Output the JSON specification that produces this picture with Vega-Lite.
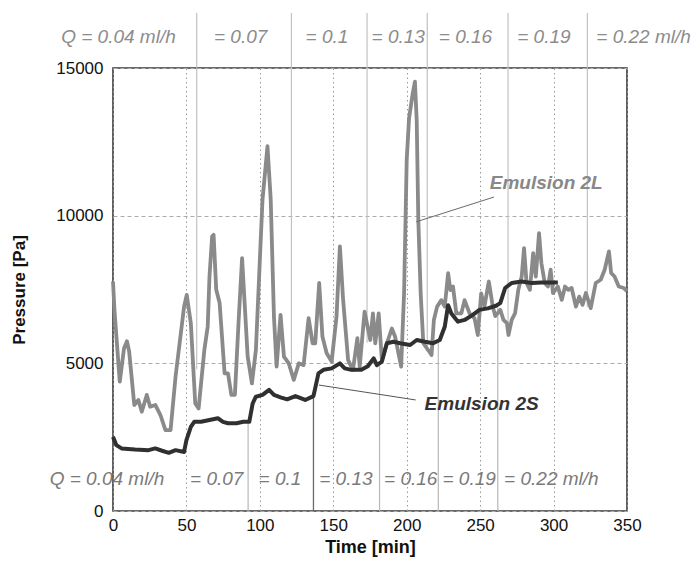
{
  "$schema": "https://vega.github.io/schema/vega-lite/v6.json",
  "width": 514,
  "height": 443,
  "padding": {"left": 113, "top": 68, "right": 65, "bottom": 53},
  "autosize": {"type": "none"},
  "background": "white",
  "config": {
    "font": "Liberation Sans",
    "view": {"stroke": "#3a3a3a", "strokeWidth": 1.6}
  },
  "datasets": {
    "l2": [
      {"t":0,"p":7770},{"t":1,"p":6800},{"t":4.6,"p":4380},{"t":7.5,"p":5500},{"t":9.5,"p":5750},{"t":11,"p":5400},
      {"t":14.5,"p":3590},{"t":17.3,"p":3760},{"t":19.6,"p":3360},{"t":23,"p":3930},{"t":25.3,"p":3530},{"t":28.8,"p":3590},
      {"t":32.3,"p":3250},{"t":35.7,"p":2740},{"t":39.2,"p":2740},{"t":42.6,"p":4550},{"t":48.4,"p":6920},{"t":50.2,"p":7320},
      {"t":53,"p":6360},{"t":56,"p":3640},{"t":58.3,"p":3470},{"t":62.2,"p":5450},{"t":64.5,"p":6250},{"t":65.7,"p":7940},
      {"t":67.5,"p":9300},{"t":68.5,"p":9350},{"t":70.3,"p":7490},{"t":72.6,"p":7040},{"t":76,"p":4660},{"t":78.3,"p":4660},
      {"t":80.6,"p":3930},{"t":83,"p":3930},{"t":85.5,"p":6400},{"t":87.9,"p":8560},{"t":91.7,"p":5230},{"t":94.6,"p":4320},
      {"t":97.3,"p":5450},{"t":101.8,"p":10540},{"t":105.2,"p":12350},{"t":107.4,"p":10540},{"t":109.6,"p":6580},{"t":111.4,"p":4890},
      {"t":114.1,"p":6640},{"t":116.4,"p":5230},{"t":119.7,"p":5000},{"t":123.1,"p":4440},{"t":126.5,"p":5000},{"t":129.8,"p":4940},
      {"t":133.2,"p":6530},{"t":135.9,"p":5680},{"t":137.7,"p":5680},{"t":140.4,"p":7720},{"t":142.6,"p":5910},{"t":145.5,"p":5340},
      {"t":148.9,"p":5060},{"t":152.2,"p":6580},{"t":154.5,"p":8960},{"t":156.7,"p":7150},{"t":160.1,"p":5110},{"t":163.4,"p":4780},
      {"t":166.4,"p":5850},{"t":168,"p":4890},{"t":171.3,"p":6750},{"t":175.2,"p":5790},{"t":177,"p":6690},{"t":178.6,"p":5680},
      {"t":180.9,"p":6690},{"t":183.1,"p":5110},{"t":186.5,"p":5680},{"t":189.9,"p":6180},{"t":192.1,"p":5900},{"t":194.4,"p":5340},
      {"t":196.2,"p":4890},{"t":198.2,"p":7370},{"t":200,"p":11890},{"t":201.6,"p":13300},{"t":204.1,"p":14140},{"t":205.6,"p":14540},
      {"t":206.8,"p":13240},{"t":207.9,"p":9850},{"t":209.5,"p":7370},{"t":211.3,"p":5680},{"t":214.6,"p":5450},{"t":216.9,"p":5280},
      {"t":218.5,"p":6470},{"t":220.7,"p":6920},{"t":223.6,"p":7140},{"t":225.9,"p":6920},{"t":228.2,"p":8050},{"t":229.7,"p":7480},
      {"t":231.5,"p":7600},{"t":233.8,"p":6690},{"t":237.2,"p":6690},{"t":239.4,"p":7140},{"t":242.8,"p":6690},{"t":246.2,"p":6520},
      {"t":248.4,"p":5960},{"t":250.7,"p":7370},{"t":252.9,"p":6920},{"t":255.9,"p":7770},{"t":258.6,"p":6920},{"t":260.3,"p":6600},
      {"t":263.7,"p":6810},{"t":265.9,"p":6470},{"t":268.2,"p":6360},{"t":269.3,"p":5960},{"t":271.5,"p":6470},{"t":273.8,"p":6700},
      {"t":276,"p":7490},{"t":278.3,"p":7940},{"t":279.9,"p":8900},{"t":281.6,"p":7720},{"t":283.9,"p":7490},{"t":286.1,"p":8730},
      {"t":287.9,"p":7940},{"t":290.1,"p":9410},{"t":291.7,"p":8390},{"t":294,"p":7720},{"t":296.2,"p":7600},{"t":298,"p":8170},
      {"t":299.6,"p":7380},{"t":302.9,"p":7600},{"t":305.6,"p":7150},{"t":307.8,"p":7600},{"t":310.1,"p":7490},{"t":312.3,"p":7550},
      {"t":315.2,"p":6920},{"t":317.5,"p":7260},{"t":319.7,"p":6980},{"t":322,"p":7380},{"t":325.3,"p":6870},{"t":328.7,"p":7720},
      {"t":332.1,"p":7830},{"t":334.8,"p":8170},{"t":337.7,"p":8790},{"t":339.2,"p":8060},{"t":341.5,"p":7940},{"t":344.4,"p":7600},
      {"t":347.8,"p":7550},{"t":350,"p":7450}
    ],
    "s2": [
      {"t":0,"p":2510},{"t":2.3,"p":2230},{"t":5.8,"p":2120},{"t":15,"p":2080},{"t":24.2,"p":2060},{"t":28.8,"p":2120},
      {"t":33.4,"p":2040},{"t":38,"p":1970},{"t":42.6,"p":2060},{"t":48.4,"p":2000},{"t":50,"p":2400},{"t":53,"p":2850},
      {"t":55.3,"p":3020},{"t":59.9,"p":3020},{"t":65.7,"p":3080},{"t":71.4,"p":3140},{"t":74.9,"p":3020},{"t":78.3,"p":2970},
      {"t":84.1,"p":2970},{"t":88.7,"p":3020},{"t":92.8,"p":3020},{"t":95.1,"p":3640},{"t":97.3,"p":3870},{"t":101.8,"p":3930},
      {"t":106.3,"p":4100},{"t":109.6,"p":3930},{"t":114.1,"p":3850},{"t":118.6,"p":3780},{"t":124.2,"p":3890},{"t":130.9,"p":3760},
      {"t":136.5,"p":3890},{"t":139.9,"p":4660},{"t":143.3,"p":4780},{"t":148.9,"p":4830},{"t":154.5,"p":5000},{"t":157.8,"p":4830},
      {"t":162.3,"p":4780},{"t":169.1,"p":4780},{"t":173.5,"p":4900},{"t":177.5,"p":5170},{"t":179.7,"p":4940},{"t":183.1,"p":5060},
      {"t":186.5,"p":5680},{"t":191,"p":5730},{"t":195.5,"p":5680},{"t":202.3,"p":5620},{"t":206.8,"p":5790},{"t":212.4,"p":5730},
      {"t":218,"p":5680},{"t":222.5,"p":5790},{"t":225.9,"p":6240},{"t":228.2,"p":6970},{"t":230.4,"p":6690},{"t":234.9,"p":6410},
      {"t":239.4,"p":6470},{"t":245,"p":6640},{"t":249.5,"p":6810},{"t":255.2,"p":6860},{"t":260.8,"p":6950},{"t":263.7,"p":7040},
      {"t":267,"p":7550},{"t":271.5,"p":7720},{"t":278.3,"p":7770},{"t":285,"p":7720},{"t":291.7,"p":7740},{"t":298.4,"p":7740},
      {"t":302.9,"p":7740}
    ],
    "sepTop": [
      {"t":57,"p":4800,"p2":16860},{"t":121.5,"p":5000,"p2":16860},{"t":173,"p":5700,"p2":16860},
      {"t":214,"p":5400,"p2":16860},{"t":269,"p":6000,"p2":16860},{"t":323,"p":6900,"p2":16860}
    ],
    "sepBottom": [
      {"t":92,"p":0,"p2":3000},{"t":181.5,"p":0,"p2":4900},{"t":221.5,"p":0,"p2":5700},{"t":262,"p":0,"p2":6900}
    ],
    "sepDark": [
      {"t":136.5,"p":0,"p2":3950}
    ],
    "topLabels": [
      {"t":3.7,"p":16050,"label":"Q = 0.04 ml/h"},{"t":86.9,"p":16050,"label":"= 0.07"},{"t":145.7,"p":16050,"label":"= 0.1"},
      {"t":194.2,"p":16050,"label":"= 0.13"},{"t":240,"p":16050,"label":"= 0.16"},{"t":293.4,"p":16050,"label":"= 0.19"},
      {"t":361.3,"p":16050,"label":"= 0.22 ml/h"}
    ],
    "bottomLabels": [
      {"t":-4.1,"p":1084,"label":"Q = 0.04 ml/h"},{"t":70.6,"p":1084,"label":"= 0.07"},{"t":113.7,"p":1084,"label":"= 0.1"},
      {"t":158.6,"p":1084,"label":"= 0.13"},{"t":202.7,"p":1084,"label":"= 0.16"},{"t":242.5,"p":1084,"label":"= 0.19"},
      {"t":298.5,"p":1084,"label":"= 0.22 ml/h"}
    ],
    "lab2L": [{"t":295,"p":11100,"label":"Emulsion 2L"}],
    "lab2S": [{"t":251,"p":3620,"label":"Emulsion 2S"}],
    "lead2L": [{"t":206.4,"p":9790,"t2":259.4,"p2":10630}],
    "lead2S": [{"t":140.2,"p":4265,"t2":206.1,"p2":3760}]
  },
  "encoding": {
    "x": {
      "field": "t", "type": "quantitative",
      "scale": {"domain": [0, 350], "nice": false, "zero": false},
      "axis": {
        "values": [0, 50, 100, 150, 200, 250, 300, 350],
        "title": "Time [min]", "titleFontSize": 18, "titleFontWeight": "bold", "titleColor": "#111",
        "labelFontSize": 17, "labelColor": "#111", "labelFlush": false, "labelPadding": 6, "titlePadding": 5,
        "ticks": false, "domain": false, "grid": true, "gridColor": "#9a9a9a", "gridDash": [1.5, 3], "gridWidth": 1
      }
    },
    "y": {
      "field": "p", "type": "quantitative",
      "scale": {"domain": [0, 15000], "nice": false},
      "axis": {
        "values": [0, 5000, 10000, 15000], "format": "d",
        "title": "Pressure [Pa]", "titleFontSize": 17, "titleFontWeight": "bold", "titleColor": "#111",
        "labelFontSize": 17, "labelColor": "#111", "labelFlush": false, "labelPadding": 10, "titlePadding": 27,
        "ticks": false, "domain": false, "grid": true, "gridColor": "#ababab", "gridDash": [4, 3], "gridWidth": 1
      }
    }
  },
  "layer": [
    {"data": {"name": "sepTop"}, "mark": {"type": "rule", "color": "#c2c2c2", "strokeWidth": 1.2},
     "encoding": {"y2": {"field": "p2"}}},
    {"data": {"name": "sepBottom"}, "mark": {"type": "rule", "color": "#b8b8b8", "strokeWidth": 1.2},
     "encoding": {"y2": {"field": "p2"}}},
    {"data": {"name": "sepDark"}, "mark": {"type": "rule", "color": "#6a6a6a", "strokeWidth": 1.3},
     "encoding": {"y2": {"field": "p2"}}},
    {"data": {"name": "l2"}, "mark": {"type": "line", "color": "#8a8a8a", "strokeWidth": 3.8, "strokeJoin": "round"},
     "encoding": {}},
    {"data": {"name": "s2"}, "mark": {"type": "line", "color": "#303030", "strokeWidth": 4, "strokeJoin": "round"},
     "encoding": {}},
    {"data": {"name": "lead2L"}, "mark": {"type": "rule", "color": "#6a6a6a", "strokeWidth": 1},
     "encoding": {"x2": {"field": "t2"}, "y2": {"field": "p2"}}},
    {"data": {"name": "lead2S"}, "mark": {"type": "rule", "color": "#555", "strokeWidth": 1},
     "encoding": {"x2": {"field": "t2"}, "y2": {"field": "p2"}}},
    {"data": {"name": "topLabels"}, "mark": {"type": "text", "fontSize": 19, "fontStyle": "italic", "color": "#8c8c8c", "align": "center", "baseline": "middle"},
     "encoding": {"text": {"field": "label"}}},
    {"data": {"name": "bottomLabels"}, "mark": {"type": "text", "fontSize": 19, "fontStyle": "italic", "color": "#7a7a7a", "align": "center", "baseline": "middle"},
     "encoding": {"text": {"field": "label"}}},
    {"data": {"name": "lab2L"}, "mark": {"type": "text", "fontSize": 19, "fontStyle": "italic", "fontWeight": "bold", "color": "#888888", "align": "center", "baseline": "middle"},
     "encoding": {"text": {"field": "label"}}},
    {"data": {"name": "lab2S"}, "mark": {"type": "text", "fontSize": 19, "fontStyle": "italic", "fontWeight": "bold", "color": "#333333", "align": "center", "baseline": "middle"},
     "encoding": {"text": {"field": "label"}}}
  ]
}
